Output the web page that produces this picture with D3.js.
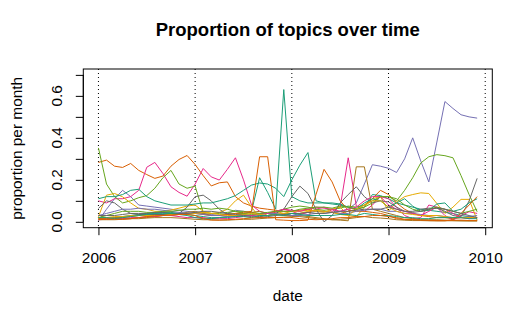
<!DOCTYPE html>
<html>
<head>
<meta charset="utf-8">
<script src="https://cdn.jsdelivr.net/npm/d3@7"></script>
<style>
  html, body { margin: 0; padding: 0; background: #fff; }
  svg { display: block; font-family: "Liberation Sans", Arial, Helvetica, sans-serif; }
</style>
</head>
<body>
<svg id="chart" width="521" height="325"></svg>
<script>
// Monthly topic proportions, Jan 2006 .. Dec 2009 (12 values per row = one year)
const teal1   = [.02,.02,.02,.025,.03,.035,.04,.04,.045,.045,.04,.035, .03,.025,.02,.02,.025,.03,.035,.05,.21,.14,.06,.63, .12,.10,.09,.09,.09,.085,.08,.07,.06,.07,.13,.125, .11,.09,.08,.07,.06,.055,.05,.045,.04,.03,.025,.02];
const orange1 = [.283,.294,.265,.259,.278,.245,.225,.207,.218,.265,.297,.316, .273,.22,.171,.186,.19,.12,.09,.075,.065,.06,.055,.05, .05,.055,.06,.05,.05,.045,.04,.05,.06,.08,.11,.15, .13,.09,.06,.04,.03,.025,.02,.02,.015,.02,.02,.02];
const purple1 = [.005,.06,.11,.15,.12,.08,.075,.07,.065,.06,.055,.05, .045,.04,.035,.03,.04,.055,.05,.04,.03,.03,.035,.04, .03,.04,.045,.05,.05,.045,.05,.06,.09,.18,.272,.265, .255,.235,.3,.4,.29,.19,.38,.573,.54,.51,.5,.494];
const pink1   = [.10,.09,.11,.11,.12,.15,.26,.283,.23,.167,.14,.122, .18,.254,.214,.199,.25,.305,.2,.08,.05,.04,.045,.06, .05,.035,.045,.06,.07,.05,.07,.305,.075,.05,.08,.12, .11,.07,.03,.015,.02,.08,.07,.03,.008,.03,.048,.04];
const green1  = [.352,.18,.12,.09,.10,.115,.125,.16,.21,.245,.18,.16, .17,.045,.04,.04,.045,.05,.05,.045,.04,.04,.05,.06, .07,.075,.07,.06,.055,.06,.065,.075,.07,.08,.1,.12, .12,.10,.15,.21,.28,.31,.32,.315,.305,.22,.13,.048];
const yellow1 = [.024,.127,.135,.119,.09,.064,.06,.05,.05,.056,.065,.075, .08,.05,.04,.045,.06,.1,.127,.07,.02,.04,.05,.04, .05,.05,.055,.05,.045,.06,.07,.03,.024,.07,.11,.12, .05,.095,.12,.13,.138,.135,.087,.04,.07,.107,.107,.008];
const brown1  = [.015,.015,.02,.02,.025,.03,.03,.035,.035,.04,.04,.045, .05,.04,.03,.03,.035,.04,.04,.045,.05,.04,.035,.03, .03,.03,.025,.02,.015,.01,.008,.005,.262,.262,.06,.05, .04,.03,.02,.015,.01,.01,.01,.008,.006,.006,.005,.005];
const grey1   = [.064,.1,.09,.06,.04,.035,.035,.035,.035,.035,.04,.07, .12,.127,.1,.06,.035,.03,.035,.03,.025,.03,.04,.06, .12,.17,.135,.06,.0,.03,.09,.13,.167,.12,.09,.1, .095,.07,.05,.05,.06,.065,.065,.05,.03,.024,.1,.207];
const teal2   = [.11,.12,.12,.13,.15,.155,.12,.10,.09,.08,.08,.08, .085,.09,.09,.10,.11,.125,.15,.175,.185,.18,.16,.12, .20,.27,.33,.10,.09,.09,.085,.07,.06,.09,.11,.10, .07,.09,.11,.075,.05,.055,.085,.09,.05,.06,.09,.11];
const orange2 = [.015,.015,.015,.015,.015,.02,.02,.025,.03,.03,.035,.04, .04,.035,.03,.03,.035,.04,.045,.05,.31,.31,.01,.008, .006,.006,.008,.13,.25,.19,.10,.055,.05,.05,.045,.04, .03,.015,.01,.01,.008,.006,.005,.005,.01,.04,.08,.12];
const purple2 = [.03,.04,.05,.06,.06,.065,.06,.06,.055,.05,.045,.04, .04,.035,.03,.03,.025,.025,.03,.03,.035,.04,.04,.035, .03,.03,.035,.04,.04,.045,.04,.04,.05,.055,.06,.06, .05,.05,.04,.04,.035,.03,.03,.025,.02,.02,.025,.03];
const pink2   = [.01,.012,.015,.015,.02,.02,.025,.025,.03,.03,.025,.02, .02,.02,.015,.015,.015,.02,.025,.03,.035,.04,.05,.06, .055,.05,.06,.07,.065,.06,.05,.06,.07,.1,.12,.12, .08,.06,.05,.04,.03,.05,.07,.06,.04,.02,.015,.02];
const green2  = [.02,.03,.04,.05,.05,.05,.045,.045,.05,.05,.055,.06, .06,.065,.06,.065,.06,.05,.04,.035,.04,.045,.05,.05, .05,.06,.065,.07,.07,.065,.075,.07,.06,.07,.09,.12, .12,.11,.08,.06,.05,.06,.07,.06,.05,.04,.05,.06];
const yellow2 = [.02,.02,.025,.025,.03,.03,.03,.03,.03,.035,.035,.035, .04,.045,.04,.035,.03,.03,.035,.04,.035,.03,.035,.04, .04,.04,.05,.055,.05,.045,.035,.03,.06,.08,.1,.1, .07,.05,.04,.035,.03,.03,.03,.025,.02,.02,.02,.02];
const brown2  = [.01,.01,.01,.012,.015,.015,.018,.02,.02,.02,.018,.015, .012,.01,.01,.008,.008,.01,.012,.012,.015,.018,.02,.022, .025,.025,.02,.015,.012,.01,.012,.015,.02,.025,.02,.018, .015,.01,.008,.006,.006,.005,.005,.005,.005,.004,.004,.004];
const grey2   = [.03,.03,.03,.035,.04,.04,.04,.045,.045,.04,.04,.04, .045,.05,.05,.045,.04,.035,.03,.025,.02,.025,.03,.035, .04,.04,.045,.04,.04,.045,.05,.05,.055,.06,.06,.06, .07,.06,.05,.045,.05,.06,.065,.06,.05,.04,.03,.02];
const teal3   = [.02,.02,.015,.02,.025,.03,.035,.04,.04,.04,.035,.03, .02,.015,.015,.02,.02,.025,.025,.02,.03,.03,.035,.03, .04,.035,.03,.03,.03,.03,.035,.035,.03,.04,.035,.03, .03,.025,.02,.02,.015,.015,.02,.02,.02,.02,.015,.015];
const orange3 = [.012,.012,.012,.012,.015,.02,.025,.028,.03,.032,.035,.035, .03,.015,.008,.008,.01,.012,.015,.018,.02,.02,.02,.02, .02,.015,.012,.01,.012,.015,.02,.02,.025,.025,.03,.03, .025,.02,.012,.01,.008,.007,.006,.006,.007,.008,.006,.006];

const topics = [teal1, orange1, purple1, pink1, green1, yellow1, brown1, grey1,
                teal2, orange2, purple2, pink2, green2, yellow2, brown2, grey2,
                teal3, orange3];

// Dark2 palette, recycled over the topics
const palette = ["#1B9E77", "#D95F02", "#7570B3", "#E7298A", "#66A61E", "#E6AB02", "#A6761D", "#666666"];

const yearTicks = [2006, 2007, 2008, 2009, 2010];
const yTicks = [0, 0.1, 0.2, 0.3, 0.4, 0.5, 0.6, 0.7];
const yLabels = [0, 0.2, 0.4, 0.6];

const titleText = "Proportion of topics over time";
const xTitle = "date";
const yTitle = "proportion per month";

// month positions as decimal years
const months = d3.range(teal1.length).map(i => 2006 + i / 12);

const svg = d3.select("#chart");
const box = { left: 83.3, right: 492.3, top: 69, bottom: 227.7 };
const baseFont = 15.4;

// R-style 4% padding around the data range
const xLo = months[0], xHi = months[months.length - 1];
const xPad = 0.04 * (xHi - xLo);
const x = d3.scaleLinear().domain([xLo - xPad, xHi + xPad]).range([box.left, box.right]);
const yPad = 0.04 * 0.7;
const y = d3.scaleLinear().domain([0 - yPad, 0.7 + yPad]).range([box.bottom, box.top]);

// vertical dotted guides at each year
svg.append("g").selectAll("line").data(yearTicks).join("line")
  .attr("x1", d => x(d)).attr("x2", d => x(d))
  .attr("y1", box.top).attr("y2", box.bottom)
  .attr("stroke", "#000").attr("stroke-width", 1)
  .attr("stroke-dasharray", "1,3");

// topic lines
const line = d3.line().x((d, i) => x(months[i])).y(d => y(d));
svg.append("g").selectAll("path").data(topics).join("path")
  .attr("d", d => line(d))
  .attr("fill", "none")
  .attr("stroke", (d, i) => palette[i % palette.length])
  .attr("stroke-width", 1)
  .attr("stroke-linejoin", "round");

// plot frame
svg.append("rect")
  .attr("x", box.left).attr("y", box.top)
  .attr("width", box.right - box.left).attr("height", box.bottom - box.top)
  .attr("fill", "none").attr("stroke", "#000").attr("stroke-width", 1);

// x axis
const xAxis = svg.append("g")
  .attr("transform", `translate(0,${box.bottom})`)
  .call(d3.axisBottom(x).tickValues(yearTicks).tickFormat(d3.format("d"))
        .tickSize(7.5).tickPadding(17.2).tickSizeOuter(0));
xAxis.select(".domain").remove();
xAxis.append("line")
  .attr("x1", x(yearTicks[0])).attr("x2", x(yearTicks[yearTicks.length - 1]))
  .attr("stroke", "#000");
xAxis.selectAll("text").attr("font-size", baseFont).attr("fill", "#000")
  .attr("font-family", "Liberation Sans, Arial, sans-serif");
xAxis.selectAll(".tick line").attr("stroke", "#000");

// y axis
const yAxis = svg.append("g")
  .attr("transform", `translate(${box.left},0)`)
  .call(d3.axisLeft(y).tickValues(yTicks).tickFormat("").tickSize(7.5).tickSizeOuter(0));
yAxis.select(".domain").remove();
yAxis.append("line")
  .attr("y1", y(yTicks[0])).attr("y2", y(yTicks[yTicks.length - 1]))
  .attr("stroke", "#000");
yAxis.selectAll(".tick line").attr("stroke", "#000");

svg.append("g").selectAll("text").data(yLabels).join("text")
  .attr("transform", d => `translate(61.7,${y(d)}) rotate(-90)`)
  .attr("text-anchor", "middle")
  .attr("font-size", baseFont)
  .text(d => d3.format(".1f")(d));

// titles
svg.append("text")
  .attr("x", (box.left + box.right) / 2).attr("y", 36)
  .attr("text-anchor", "middle")
  .attr("font-size", 18.5).attr("font-weight", "bold")
  .text(titleText);

svg.append("text")
  .attr("x", (box.left + box.right) / 2).attr("y", 301)
  .attr("text-anchor", "middle")
  .attr("font-size", baseFont)
  .text(xTitle);

svg.append("text")
  .attr("transform", `translate(22,${(box.top + box.bottom) / 2}) rotate(-90)`)
  .attr("text-anchor", "middle")
  .attr("font-size", baseFont)
  .text(yTitle);
</script>
</body>
</html>
